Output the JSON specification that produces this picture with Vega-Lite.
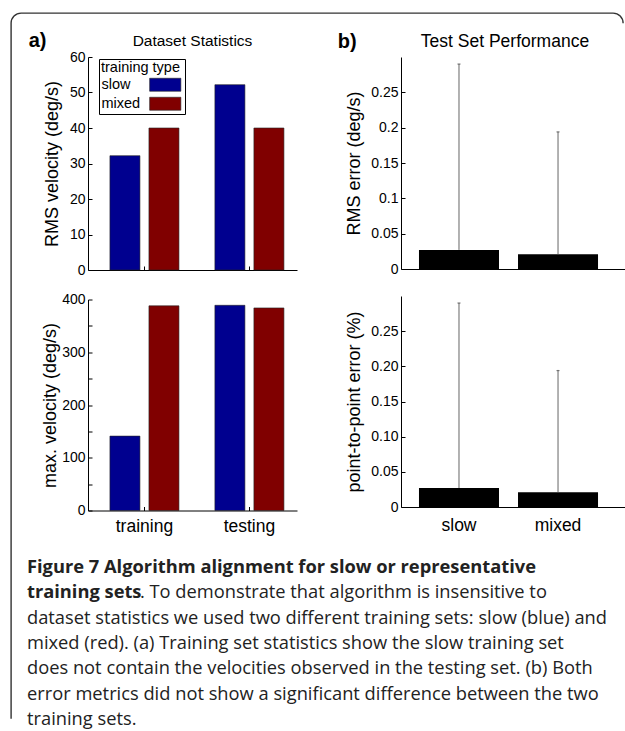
{
  "$schema": "https://vega.github.io/schema/vega-lite/v6.json",
  "background": "white",
  "padding": {"left": 10, "top": 12, "right": 0, "bottom": 0},
  "datasets": {
    "rms": [
      {"set": "training", "type": "slow", "value": 32.2},
      {"set": "training", "type": "mixed", "value": 40.0},
      {"set": "testing", "type": "slow", "value": 52.2},
      {"set": "testing", "type": "mixed", "value": 40.0}
    ],
    "maxv": [
      {"set": "training", "type": "slow", "value": 141},
      {"set": "training", "type": "mixed", "value": 388},
      {"set": "testing", "type": "slow", "value": 389},
      {"set": "testing", "type": "mixed", "value": 384}
    ],
    "err": [
      {"type": "slow", "rms": 0.027, "rmsUpper": 0.29, "p2p": 0.027, "p2pUpper": 0.29},
      {"type": "mixed", "rms": 0.021, "rmsUpper": 0.194, "p2p": 0.021, "p2pUpper": 0.194}
    ],
    "captionBold": [
      {"line": 1, "text": "Figure 7 Algorithm alignment for slow or representative"},
      {"line": 2, "text": "training sets"}
    ],
    "captionRest": [
      {"line": 2, "text": ". To demonstrate that algorithm is insensitive to"}
    ],
    "caption": [
      {"line": 3, "text": "dataset statistics we used two different training sets: slow (blue) and"},
      {"line": 4, "text": "mixed (red). (a) Training set statistics show the slow training set"},
      {"line": 5, "text": "does not contain the velocities observed in the testing set. (b) Both"},
      {"line": 6, "text": "error metrics did not show a significant difference between the two"},
      {"line": 7, "text": "training sets."}
    ]
  },
  "config": {
    "font": "Liberation Sans",
    "view": {"stroke": null},
    "axis": {
      "domainColor": "black", "tickColor": "black", "labelColor": "black", "titleColor": "black",
      "labelFontSize": 14, "titleFontSize": 18, "titleFontWeight": "normal",
      "grid": false, "tickSize": -4, "labelPadding": 7, "domainWidth": 1, "tickWidth": 1
    },
    "title": {"fontWeight": "normal", "color": "black", "font": "Liberation Sans"}
  },
  "columns": 1,
  "align": "none",
  "spacing": -701,
  "concat": [
    {
      "width": 612, "height": 716,
      "data": {"values": []},
      "mark": "point",
      "view": {"stroke": "#333", "strokeWidth": 1.4, "cornerRadius": 10, "fill": null, "strokeDash": [607.7, 1319.4, 711.7]}
    },
    {
      "spacing": 15,
      "hconcat": [
        {"width": 1, "height": 1, "data": {"values": []}, "mark": "point"},
        {
          "spacing": 0,
          "vconcat": [
            {"width": 1, "height": 1, "data": {"values": []}, "mark": "point"},
            {
              "spacing": 23,
              "vconcat": [
                {
                  "spacing": 0,
                  "hconcat": [
                    {"width": 1, "height": 1, "data": {"values": []}, "mark": "point"},
                    {
                      "spacing": 40,
                      "hconcat": [
                        {
                          "title": {"text": "a)", "anchor": "start", "frame": "bounds", "fontSize": 20, "fontWeight": "bold", "offset": -17, "dx": -13},
                          "spacing": 15.5,
                          "resolve": {"scale": {"color": "independent"}, "legend": {"color": "independent"}},
                          "vconcat": [
                            {
                              "width": 209, "height": 213,
                              "title": {"text": "Dataset Statistics", "fontSize": 15.5, "offset": 1},
                              "data": {"name": "rms"},
                              "mark": {"type": "bar", "stroke": "#222", "strokeWidth": 0.6},
                              "encoding": {
                                "x": {"field": "set", "type": "nominal", "sort": ["training", "testing"],
                                      "scale": {"paddingInner": 0.257, "paddingOuter": 0.124, "align": 0.67},
                                      "axis": {"labels": false, "title": null}},
                                "xOffset": {"field": "type", "sort": ["slow", "mixed"], "scale": {"paddingInner": 0.231, "paddingOuter": 0.115}},
                                "y": {"field": "value", "type": "quantitative", "scale": {"domain": [0, 60], "nice": false},
                                      "axis": {"values": [0, 10, 20, 30, 40, 50, 60], "title": "RMS velocity (deg/s)", "titlePadding": 8}},
                                "color": {"field": "type", "type": "nominal", "sort": ["slow", "mixed"],
                                          "scale": {"range": ["#00008F", "#800000"]},
                                          "legend": {"title": "training type", "orient": "none", "legendX": 11, "legendY": 2,
                                                     "symbolType": "M-2.4,-1H2.4V1H-2.4Z", "symbolSize": 169,
                                                     "symbolStrokeColor": "#222", "symbolStrokeWidth": 0.6,
                                                     "symbolOffset": 57, "labelOffset": -71,
                                                     "strokeColor": "black", "fillColor": "white", "padding": 2,
                                                     "titlePadding": 2, "rowPadding": 3,
                                                     "labelFontSize": 14.5, "titleFontSize": 14.5, "titleFontWeight": "normal",
                                                     "labelColor": "black", "titleColor": "black"}}
                              }
                            },
                            {
                              "width": 209, "height": 211,
                              "data": {"name": "maxv"},
                              "mark": {"type": "bar", "stroke": "#222", "strokeWidth": 0.6},
                              "encoding": {
                                "x": {"field": "set", "type": "nominal", "sort": ["training", "testing"],
                                      "scale": {"paddingInner": 0.257, "paddingOuter": 0.124, "align": 0.67},
                                      "axis": {"title": null, "labelFontSize": 17.5, "labelPadding": 11, "labelAngle": 0}},
                                "xOffset": {"field": "type", "sort": ["slow", "mixed"], "scale": {"paddingInner": 0.231, "paddingOuter": 0.115}},
                                "y": {"field": "value", "type": "quantitative", "scale": {"domain": [0, 400], "nice": false},
                                      "axis": {"values": [0, 50, 100, 150, 200, 250, 300, 350, 400],
                                               "labelExpr": "datum.value % 100 === 0 ? datum.label : ''",
                                               "title": "max. velocity (deg/s)", "titlePadding": 2}},
                                "color": {"field": "type", "type": "nominal", "sort": ["slow", "mixed"],
                                          "scale": {"range": ["#00008F", "#800000"]}, "legend": null}
                              }
                            }
                          ]
                        },
                        {
                          "title": {"text": "b)", "anchor": "start", "frame": "bounds", "fontSize": 20, "fontWeight": "bold", "offset": -18.75, "dx": -8},
                          "spacing": 20,
                          "vconcat": [
                            {
                              "width": 224, "height": 212,
                              "title": {"text": "Test Set Performance", "fontSize": 17.5, "offset": 6.75, "dx": -8},
                              "data": {"name": "err"},
                              "encoding": {
                                "x": {"field": "type", "type": "nominal", "sort": ["slow", "mixed"],
                                      "scale": {"paddingInner": 0.192, "paddingOuter": 0.227, "align": 0.4},
                                      "axis": {"labels": false, "ticks": false, "title": null}}
                              },
                              "layer": [
                                {
                                  "mark": {"type": "bar", "color": "black"},
                                  "encoding": {
                                    "y": {"field": "rms", "type": "quantitative", "scale": {"domain": [0, 0.3], "nice": false},
                                          "axis": {"values": [0, 0.05, 0.1, 0.15, 0.2, 0.25], "format": ".2~f", "title": "RMS error (deg/s)", "titlePadding": 7}}
                                  }
                                },
                                {
                                  "mark": {"type": "rule", "color": "#666", "strokeWidth": 1},
                                  "encoding": {"y": {"field": "rms", "type": "quantitative"}, "y2": {"field": "rmsUpper"}}
                                },
                                {
                                  "mark": {"type": "tick", "color": "#444", "size": 3, "thickness": 1.2},
                                  "encoding": {"y": {"field": "rmsUpper", "type": "quantitative"}}
                                }
                              ]
                            },
                            {
                              "width": 224, "height": 211,
                              "data": {"name": "err"},
                              "encoding": {
                                "x": {"field": "type", "type": "nominal", "sort": ["slow", "mixed"],
                                      "scale": {"paddingInner": 0.192, "paddingOuter": 0.227, "align": 0.4},
                                      "axis": {"ticks": false, "title": null, "labelFontSize": 17.5, "labelPadding": 9, "labelAngle": 0}}
                              },
                              "layer": [
                                {
                                  "mark": {"type": "bar", "color": "black"},
                                  "encoding": {
                                    "y": {"field": "p2p", "type": "quantitative", "scale": {"domain": [0, 0.3], "nice": false},
                                          "axis": {"values": [0, 0.05, 0.1, 0.15, 0.2, 0.25],
                                                   "labelExpr": "datum.value === 0 ? '0' : format(datum.value, '.2f')",
                                                   "title": "point-to-point error (%)", "titlePadding": 7}}
                                  }
                                },
                                {
                                  "mark": {"type": "rule", "color": "#666", "strokeWidth": 1},
                                  "encoding": {"y": {"field": "p2p", "type": "quantitative"}, "y2": {"field": "p2pUpper"}}
                                },
                                {
                                  "mark": {"type": "tick", "color": "#444", "size": 3, "thickness": 1.2},
                                  "encoding": {"y": {"field": "p2pUpper", "type": "quantitative"}}
                                }
                              ]
                            }
                          ]
                        }
                      ]
                    }
                  ]
                },
                {
                  "width": 589, "height": 152,
                  "encoding": {
                    "x": {"datum": 0, "type": "quantitative", "scale": {"domain": [0, 1]}, "axis": null},
                    "y": {"field": "line", "type": "ordinal", "scale": {"type": "point", "padding": 0, "domain": [1, 2, 3, 4, 5, 6, 7]}, "axis": null},
                    "text": {"field": "text"}
                  },
                  "layer": [
                    {"data": {"name": "captionBold"}, "mark": {"type": "text", "align": "left", "baseline": "middle", "font": "Open Sans", "fontSize": 18.3, "fontWeight": "bold", "color": "#222"}},
                    {"data": {"name": "captionRest"}, "mark": {"type": "text", "align": "left", "baseline": "middle", "font": "Open Sans", "fontSize": 18.3, "color": "#222", "dx": 113}},
                    {"data": {"name": "caption"}, "mark": {"type": "text", "align": "left", "baseline": "middle", "font": "Open Sans", "fontSize": 18.3, "color": "#222"}}
                  ]
                }
              ]
            }
          ]
        }
      ]
    }
  ]
}
